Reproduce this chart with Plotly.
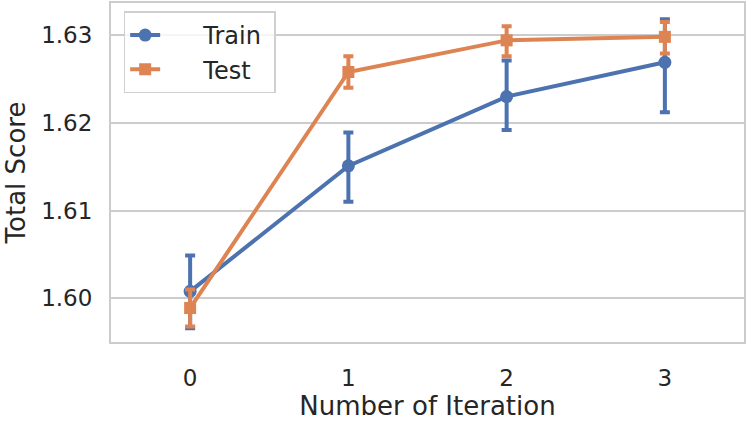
import plotly.graph_objects as go

iterations = [0, 1, 2, 3]
train_mean = [1.6008, 1.6151, 1.6230, 1.6269]
train_upper = [1.6049, 1.6189, 1.6271, 1.6318]
train_lower = [1.5966, 1.6110, 1.6192, 1.6212]
test_mean = [1.5989, 1.6258, 1.6294, 1.6298]
test_upper = [1.6010, 1.6276, 1.6310, 1.6315]
test_lower = [1.5968, 1.6240, 1.6276, 1.6279]

BLUE = "#4c72b0"
ORANGE = "#dd8452"
FONT = "DejaVu Sans"

def trace(name, mean, up, lo, color, symbol, size):
    return go.Scatter(
        x=iterations, y=mean, name="\u00a0" * 5 + name + "\u00a0", mode="lines+markers",
        line=dict(color=color, width=4),
        marker=dict(color=color, size=size, symbol=symbol),
        error_y=dict(type="data", symmetric=False,
                     array=[u - m for u, m in zip(up, mean)],
                     arrayminus=[m - l for m, l in zip(mean, lo)],
                     color=color, thickness=4, width=5),
    )

fig = go.Figure()
fig.add_trace(trace("Train", train_mean, train_upper, train_lower, BLUE, "circle", 13))
fig.add_trace(trace("Test", test_mean, test_upper, test_lower, ORANGE, "square", 12))

fig.update_layout(
    width=747, height=423,
    margin=dict(l=111, r=1, t=1, b=81),
    plot_bgcolor="white", paper_bgcolor="white",
    font=dict(family=FONT, size=23, color="#262626"),
    legend=dict(x=0.02, y=0.975, xanchor="left", yanchor="top",
                bgcolor="rgba(255,255,255,0.8)", bordercolor="#d0d0d0", borderwidth=1.5,
                font=dict(size=24, family=FONT)),
    showlegend=True,
)
fig.update_xaxes(
    range=[-0.5, 3.5], tickmode="array", tickvals=iterations,
    ticktext=[str(i) for i in iterations],
    showgrid=False, zeroline=False,
    showline=True, linecolor="#cccccc", linewidth=2, mirror=True,
    ticks="", tickfont=dict(size=23), ticklabelstandoff=14,
    title=dict(text="Number of Iteration", font=dict(size=26), standoff=6),
)
fig.update_yaxes(
    range=[1.59503, 1.63366], tickvals=[1.60, 1.61, 1.62, 1.63],
    ticktext=["1.60", "1.61", "1.62", "1.63"],
    showgrid=True, gridcolor="#cccccc", gridwidth=1.5, zeroline=False,
    showline=True, linecolor="#cccccc", linewidth=2, mirror=True,
    ticks="", tickfont=dict(size=23), ticklabelstandoff=12,
    title=dict(text="Total Score", font=dict(size=26), standoff=8),
)

fig.write_html("out.html", config={"displayModeBar": False},
               post_script="document.body.style.margin='0';")
